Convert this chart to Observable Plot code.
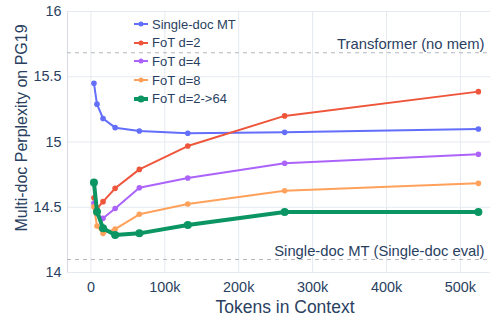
<!DOCTYPE html>
<html>
<head>
<meta charset="utf-8">
<script src="https://cdn.jsdelivr.net/npm/d3@7"></script>
<script src="https://cdn.jsdelivr.net/npm/@observablehq/plot@0.6"></script>
<style>
  html, body { margin: 0; padding: 0; background: #fff; }
  #wrap { position: relative; width: 495px; height: 318px; font-family: "Liberation Sans", Arial, sans-serif; }
  #legend { position: absolute; left: 133px; top: 15px; }
  .item { display: flex; align-items: center; height: 18.6px; font-size: 13px; color: #2a3f5f; white-space: nowrap; }
  .item svg { margin-right: 3px; }
</style>
</head>
<body>
<div id="wrap"><div id="legend"></div></div>
<script>
const tokens = [4096, 8192, 16384, 32768, 65536, 131072, 262144, 524288];
const singleDocMT = [15.45, 15.29, 15.18, 15.11, 15.084, 15.067, 15.074, 15.10];
const fotD2 = [14.573, 14.49, 14.543, 14.645, 14.79, 14.969, 15.20, 15.386];
const fotD4 = [14.53, 14.45, 14.415, 14.49, 14.65, 14.724, 14.837, 14.906];
const fotD8 = [14.504, 14.356, 14.30, 14.333, 14.446, 14.525, 14.627, 14.683];
const fotD2to64 = [14.69, 14.466, 14.339, 14.287, 14.30, 14.364, 14.464, 14.464];

const seriesNames = ["Single-doc MT", "FoT d=2", "FoT d=4", "FoT d=8", "FoT d=2->64"];
const seriesValues = [singleDocMT, fotD2, fotD4, fotD8, fotD2to64];
const seriesColors = ["#636efa", "#ef553b", "#ab63fa", "#ffa15a", "#0a9563"];
const seriesThick = [false, false, false, false, true];

const refNames = ["Transformer (no mem)", "Single-doc MT (Single-doc eval)"];
const refValues = [15.684, 14.10];

const xTicks = [0, 100000, 200000, 300000, 400000, 500000];
const xTickLabels = ["0", "100k", "200k", "300k", "400k", "500k"];
const yTicks = [14, 14.5, 15, 15.5, 16];
const yTickLabels = ["14", "14.5", "15", "15.5", "16"];
const xDomain = [-31700, 540700];
const yDomain = [14, 16];

const textColor = "#2a3f5f";
const gridColor = "#e5e9f0";

const seriesMarks = [];
seriesNames.forEach((name, i) => {
  const rows = tokens.map((t, j) => ({x: t, y: seriesValues[i][j]}));
  seriesMarks.push(Plot.line(rows, {x: "x", y: "y", stroke: seriesColors[i], strokeWidth: seriesThick[i] ? 4 : 2}));
  seriesMarks.push(Plot.dot(rows, {x: "x", y: "y", fill: seriesColors[i], r: seriesThick[i] ? 4 : 2.8}));
});

const refRows = refNames.map((n, i) => ({name: n, y: refValues[i]}));

const chart = Plot.plot({
  width: 495,
  height: 318,
  marginLeft: 67,
  marginRight: 5,
  marginTop: 11,
  marginBottom: 46,
  style: {fontFamily: "'Liberation Sans', Arial, sans-serif", fontSize: "14.4px", color: textColor, background: "#fff"},
  x: {domain: xDomain},
  y: {domain: yDomain},
  marks: [
    Plot.gridX(xTicks, {stroke: gridColor, strokeOpacity: 1}),
    Plot.gridY(yTicks, {stroke: gridColor, strokeOpacity: 1}),
    Plot.ruleX([xDomain[0]], {stroke: "#dcdfe6", strokeWidth: 1.2}),
    Plot.axisX(xTicks, {tickSize: 0, tickPadding: 9, label: null, tickFormat: (d) => xTickLabels[xTicks.indexOf(d)], fill: textColor}),
    Plot.axisY(yTicks, {tickSize: 0, tickPadding: 6, label: null, tickFormat: d => yTickLabels[yTicks.indexOf(d)], fill: textColor}),
    Plot.ruleY(refRows, {y: "y", stroke: "#b4b8bf", strokeDasharray: "4,4", strokeWidth: 1}),
    Plot.text(refRows, {y: "y", text: "name", frameAnchor: "right", textAnchor: "end", dx: -6, dy: -8, fill: textColor, fontSize: 14.8}),
    ...seriesMarks,
    Plot.text(["Tokens in Context"], {frameAnchor: "bottom", textAnchor: "middle", dx: 6, dy: 35, fill: textColor, fontSize: 17.5, lineAnchor: "middle"}),
    Plot.text(["Multi-doc Perplexity on PG19"], {frameAnchor: "left", textAnchor: "middle", rotate: -90, dx: -46, dy: -14, fill: textColor, fontSize: 16, lineAnchor: "middle"})
  ]
});
document.getElementById("wrap").prepend(chart);

const legend = d3.select("#legend");
seriesNames.forEach((name, i) => {
  const item = legend.append("div").attr("class", "item");
  const s = item.append("svg").attr("width", 16).attr("height", 10);
  s.append("line").attr("x1", 1).attr("x2", 15).attr("y1", 5).attr("y2", 5)
    .attr("stroke", seriesColors[i]).attr("stroke-width", seriesThick[i] ? 4 : 2);
  s.append("circle").attr("cx", 8).attr("cy", 5).attr("r", seriesThick[i] ? 3.5 : 2.5).attr("fill", seriesColors[i]);
  item.append("span").text(name);
});
</script>
</body>
</html>
